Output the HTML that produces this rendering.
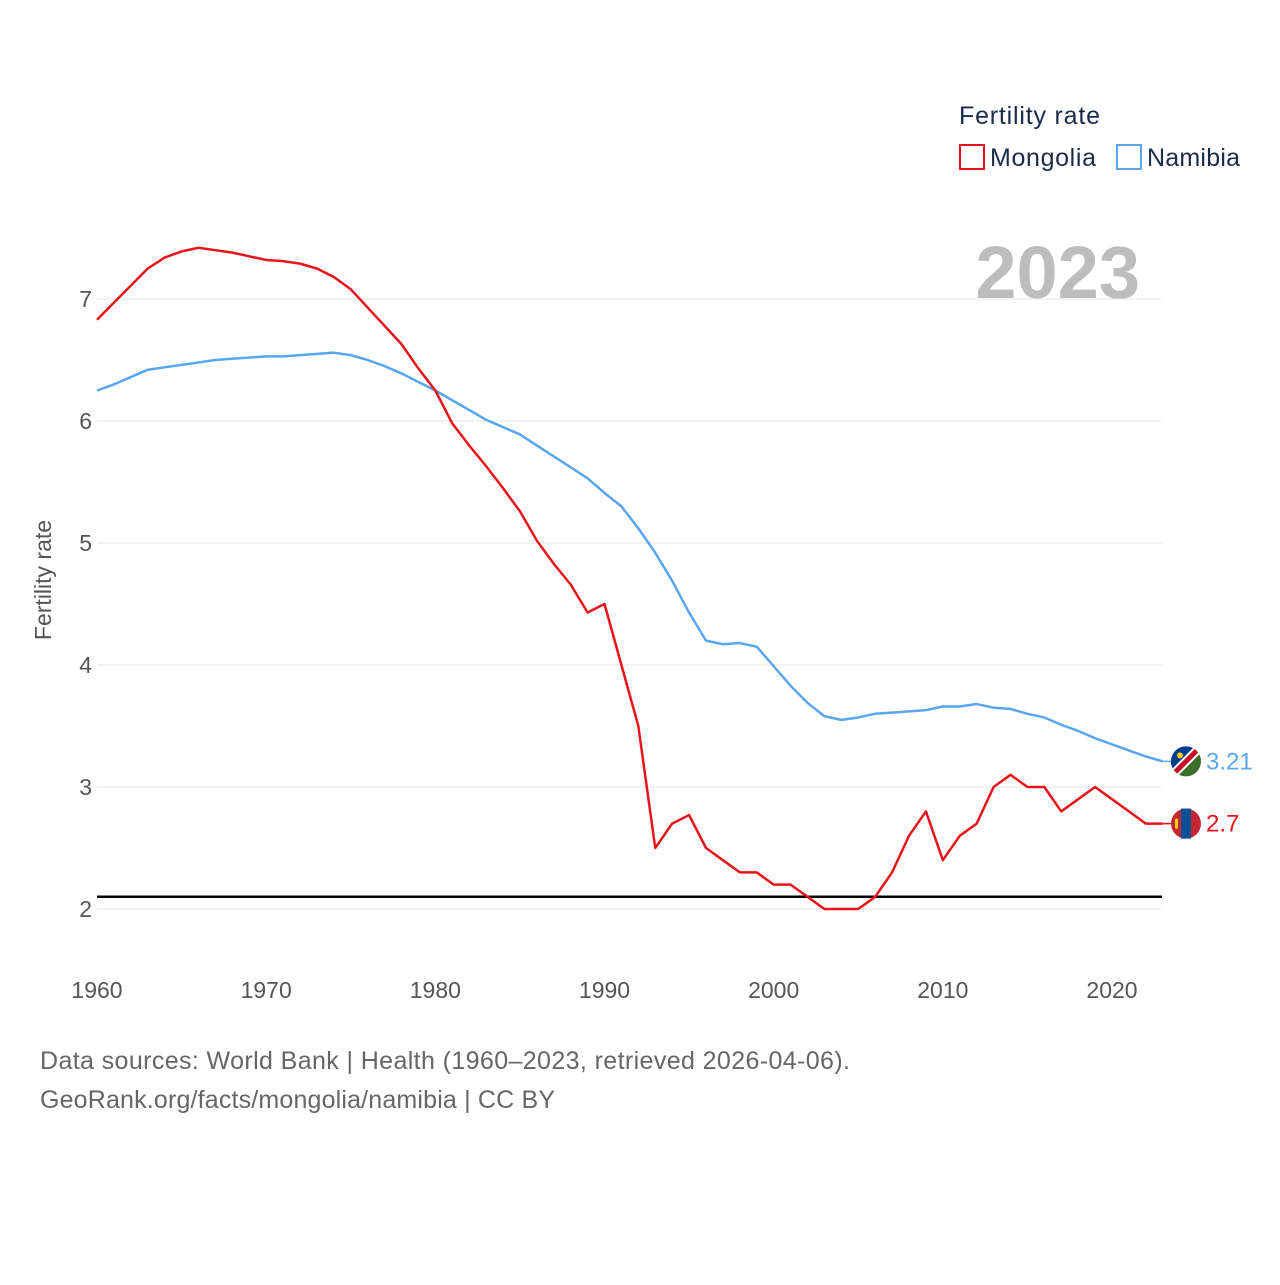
<!DOCTYPE html>
<html><head><meta charset="utf-8"><style>
body{margin:0;background:#fff;font-family:"Liberation Sans",sans-serif}
</style></head><body>
<svg id="c" width="1280" height="1280" xmlns="http://www.w3.org/2000/svg" style="font-family:'Liberation Sans',sans-serif">
<text x="959" y="124" font-size="25" fill="#1a2b4a" textLength="141">Fertility rate</text>
<rect x="960" y="145" width="24" height="24" fill="none" stroke="#e8141b" stroke-width="2"/>
<text x="990" y="166" font-size="25" fill="#1a2b4a" textLength="106">Mongolia</text>
<rect x="1117" y="145" width="24" height="24" fill="none" stroke="#5aa6ee" stroke-width="2"/>
<text x="1147" y="166" font-size="25" fill="#1a2b4a" textLength="93">Namibia</text>
<text x="1140" y="298" font-size="74" font-weight="bold" fill="#bdbdbd" text-anchor="end">2023</text>
<text transform="translate(51,580) rotate(-90)" font-size="23" fill="#555" text-anchor="middle">Fertility rate</text>
<g id="grid"></g><g id="ticks"></g><g id="lines"></g>
<text x="40" y="1069" font-size="25" fill="#666" textLength="810">Data sources: World Bank | Health (1960–2023, retrieved 2026-04-06).</text>
<text x="40" y="1108" font-size="25" fill="#666" textLength="515">GeoRank.org/facts/mongolia/namibia | CC BY</text>
</svg>
<script>
const years=[];for(let y=1960;y<=2023;y++)years.push(y);
const mongolia=[6.83,6.97,7.11,7.25,7.34,7.39,7.42,7.40,7.38,7.35,7.32,7.31,7.29,7.25,7.18,7.08,6.93,6.78,6.63,6.43,6.25,5.98,5.80,5.63,5.45,5.26,5.02,4.83,4.66,4.43,4.50,4.00,3.50,2.50,2.70,2.77,2.50,2.40,2.30,2.30,2.20,2.20,2.10,2.00,2.00,2.00,2.10,2.30,2.60,2.80,2.40,2.60,2.70,3.00,3.10,3.00,3.00,2.80,2.90,3.00,2.90,2.80,2.70,2.70];
const namibia=[6.25,6.30,6.36,6.42,6.44,6.46,6.48,6.50,6.51,6.52,6.53,6.53,6.54,6.55,6.56,6.54,6.50,6.45,6.39,6.32,6.25,6.17,6.09,6.01,5.95,5.89,5.80,5.71,5.62,5.53,5.41,5.30,5.12,4.92,4.69,4.43,4.20,4.17,4.18,4.15,3.99,3.83,3.69,3.58,3.55,3.57,3.60,3.61,3.62,3.63,3.66,3.66,3.68,3.65,3.64,3.60,3.57,3.51,3.46,3.40,3.35,3.30,3.25,3.21];
const yTicks=[2,3,4,5,6,7];
const xTicks=[1960,1970,1980,1990,2000,2010,2020];
const replacement=2.1;
const X=y=>97+(y-1960)*(1015/60), Y=v=>299+(7-v)*122;
const NS='http://www.w3.org/2000/svg';
function mk(t,a,p){const e=document.createElementNS(NS,t);for(const k in a)e.setAttribute(k,a[k]);p.appendChild(e);return e;}
const g=document.getElementById('grid'),tk=document.getElementById('ticks'),ln=document.getElementById('lines');
yTicks.forEach(v=>{const l=mk('line',{x1:97,x2:1162,y1:Y(v),y2:Y(v),stroke:'#e6e6e6','stroke-width':1},g);


const t=mk('text',{x:92,y:Y(v)+8,'font-size':23,fill:'#555','text-anchor':'end'},tk);t.textContent=v;

});
xTicks.forEach(v=>{const t=mk('text',{x:X(v),y:998,'font-size':23,fill:'#555','text-anchor':'middle'},tk);t.textContent=v;

});
const r=mk('line',{x1:97,x2:1162,y1:Y(replacement),y2:Y(replacement),stroke:'#000','stroke-width':2.5},ln);


function series(d,c,name){const p=mk('polyline',{points:d.map((v,i)=>X(years[i])+','+Y(v)).join(' '),fill:'none',stroke:c,'stroke-width':2.5,'stroke-linejoin':'round'},ln);

}
series(namibia,'#5aa6ee','namibia-line');
series(mongolia,'#e8141b','mongolia-line');
const last=years.length-1,ex=X(years[last]);
const ny=Y(namibia[last]),my=Y(mongolia[last]);
mk('line',{x1:ex,x2:1172,y1:ny,y2:ny,stroke:'#5aa6ee','stroke-width':1.5},ln);
mk('line',{x1:ex,x2:1172,y1:my,y2:my,stroke:'#e8141b','stroke-width':1.5},ln);
const fn=mk('g',{},ln);


const cp=mk('clipPath',{id:'cn'},fn);
mk('circle',{cx:1186,cy:ny,r:15},cp);
const gn=mk('g',{'clip-path':'url(#cn)'},fn);
mk('rect',{x:1170,y:ny-16,width:32,height:32,fill:'#3b6e2a'},gn);
mk('polygon',{points:`1170,${ny-16} 1202,${ny-16} 1170,${ny+16}`,fill:'#003d8f'},gn);
mk('line',{x1:1170,y1:ny+16,x2:1202,y2:ny-16,stroke:'#fff','stroke-width':9},gn);
mk('line',{x1:1170,y1:ny+16,x2:1202,y2:ny-16,stroke:'#c8102e','stroke-width':5},gn);
mk('circle',{cx:1180,cy:ny-6,r:3,fill:'#ffcd00'},gn);
const fm=mk('g',{},ln);


mk('circle',{cx:1186,cy:my,r:15,fill:'#c4272f'},fm);
mk('rect',{x:1181,y:my-15,width:10,height:30,fill:'#015197'},fm);
mk('rect',{x:1175,y:my-5,width:3,height:10,fill:'#f9cf02'},fm);
const tn=mk('text',{x:1206,y:ny+8,'font-size':24,fill:'#5aa6ee'},ln);tn.textContent=namibia[last];


const tm=mk('text',{x:1206,y:my+8,'font-size':24,fill:'#e8141b'},ln);tm.textContent=mongolia[last];


</script>
</body></html>
